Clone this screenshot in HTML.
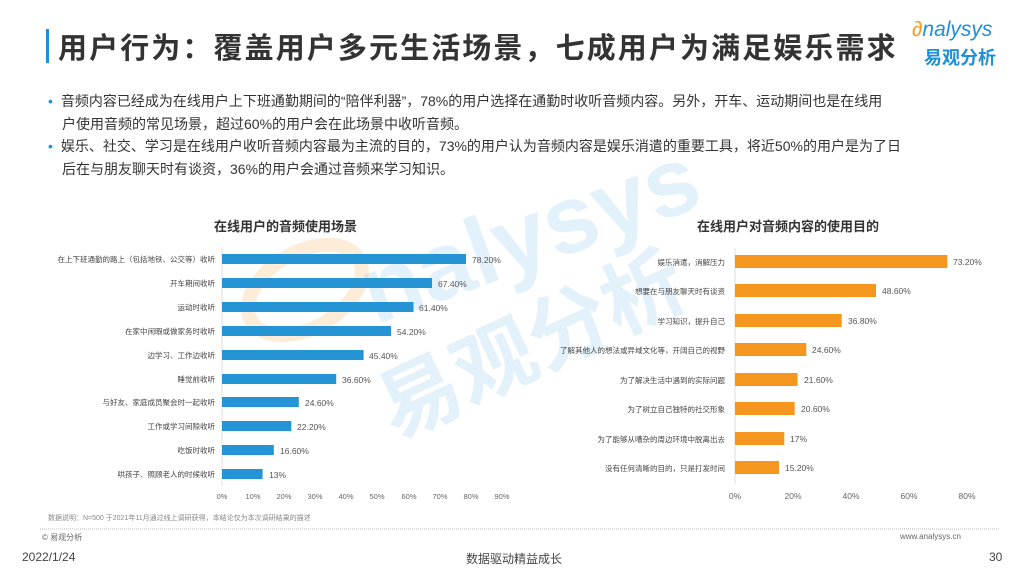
<!DOCTYPE html>
<html><head><meta charset="utf-8"><style>
body{margin:0;width:1024px;height:576px;background:#fff;position:relative;overflow:hidden;font-family:"Liberation Sans","Noto Sans CJK SC",sans-serif;color:#333}
.a{position:absolute;white-space:nowrap}
</style></head><body>
<svg class="a" style="left:0;top:0" width="1024" height="576" font-family="Liberation Sans, Noto Sans CJK SC, sans-serif">
<ellipse cx="305" cy="290" rx="62" ry="38" transform="rotate(-30 305 290)" fill="none" stroke="rgba(245,150,31,0.18)" stroke-width="14"/>
<text x="375" y="325" font-size="96" font-weight="bold" fill="rgba(31,143,214,0.13)" transform="rotate(-20 375 325)">nalysys</text>
<text x="395" y="440" font-size="82" font-weight="bold" fill="rgba(31,143,214,0.13)" transform="rotate(-25 395 440)">易观分析</text>
</svg>
<div class="a" style="left:46px;top:29px;width:3px;height:34px;background:#1f8fd6"></div>
<div class="a" style="left:58px;top:25px;font-size:29px;font-weight:bold;color:#333;letter-spacing:2.1px">用户行为：覆盖用户多元生活场景，七成用户为满足娱乐需求</div>
<div class="a" style="left:912px;top:18px;font-size:21px;color:#1f8fd6;font-style:italic"><span style="color:#f39c27">∂</span>nalysys</div>
<div class="a" style="left:924px;top:44px;font-size:18px;color:#1f8fd6;font-weight:bold">易观分析</div>
<div class="a" style="left:48px;top:90px;font-size:14px;line-height:22.5px;color:#333">
<div><span style="color:#1f8fd6;margin-right:8px">•</span>音频内容已经成为在线用户上下班通勤期间的“陪伴利器”，78%的用户选择在通勤时收听音频内容。另外，开车、运动期间也是在线用</div>
<div style="padding-left:14px">户使用音频的常见场景，超过60%的用户会在此场景中收听音频。</div>
<div><span style="color:#1f8fd6;margin-right:8px">•</span>娱乐、社交、学习是在线用户收听音频内容最为主流的目的，73%的用户认为音频内容是娱乐消遣的重要工具，将近50%的用户是为了日</div>
<div style="padding-left:14px">后在与朋友聊天时有谈资，36%的用户会通过音频来学习知识。</div>
</div>
<div class="a" style="left:214px;top:216px;font-size:13px;font-weight:bold;color:#333">在线用户的音频使用场景</div>
<div class="a" style="left:697px;top:216px;font-size:13px;font-weight:bold;color:#333">在线用户对音频内容的使用目的</div>
<svg class="a" style="left:0;top:0" width="1024" height="576" font-family="Liberation Sans, Noto Sans CJK SC, sans-serif">
<g font-size="7.5" fill="#444" text-anchor="end">
<line x1="222" y1="247" x2="222" y2="486" stroke="#ddd"/>
<g fill="#2494d4">
<rect x="222" y="254" width="244" height="10"/>
<rect x="222" y="278" width="210" height="10"/>
<rect x="222" y="302" width="191.5" height="10"/>
<rect x="222" y="326" width="169" height="10"/>
<rect x="222" y="350" width="141.6" height="10"/>
<rect x="222" y="374" width="114.2" height="10"/>
<rect x="222" y="397" width="76.8" height="10"/>
<rect x="222" y="421" width="69.3" height="10"/>
<rect x="222" y="445" width="51.8" height="10"/>
<rect x="222" y="469" width="40.6" height="10"/>
</g>
<text x="215" y="262">在上下班通勤的路上（包括地铁、公交等）收听</text>
<text x="215" y="286">开车期间收听</text>
<text x="215" y="310">运动时收听</text>
<text x="215" y="334">在家中闲暇或做家务时收听</text>
<text x="215" y="358">边学习、工作边收听</text>
<text x="215" y="382">睡觉前收听</text>
<text x="215" y="405">与好友、家庭成员聚会时一起收听</text>
<text x="215" y="429">工作或学习间隙收听</text>
<text x="215" y="453">吃饭时收听</text>
<text x="215" y="477">哄孩子、照顾老人的时候收听</text>
<g text-anchor="start" font-size="8.5" fill="#555">
<text x="472" y="263">78.20%</text><text x="438" y="287">67.40%</text><text x="419" y="311">61.40%</text><text x="397" y="335">54.20%</text><text x="369" y="359">45.40%</text><text x="342" y="383">36.60%</text><text x="305" y="406">24.60%</text><text x="297" y="430">22.20%</text><text x="280" y="454">16.60%</text><text x="269" y="478">13%</text>
</g>
<g text-anchor="middle" font-size="7.5" fill="#666">
<text x="222" y="499">0%</text><text x="253" y="499">10%</text><text x="284" y="499">20%</text><text x="315" y="499">30%</text><text x="346" y="499">40%</text><text x="377" y="499">50%</text><text x="409" y="499">60%</text><text x="440" y="499">70%</text><text x="471" y="499">80%</text><text x="502" y="499">90%</text>
</g>
</g>
<g font-size="7.5" fill="#444" text-anchor="end">
<line x1="735" y1="248" x2="735" y2="484" stroke="#ddd"/>
<g fill="#f5961f">
<rect x="735" y="255" width="212.3" height="13"/>
<rect x="735" y="284" width="141" height="13"/>
<rect x="735" y="314" width="106.7" height="13"/>
<rect x="735" y="343" width="71.3" height="13"/>
<rect x="735" y="373" width="62.6" height="13"/>
<rect x="735" y="402" width="59.7" height="13"/>
<rect x="735" y="432" width="49.3" height="13"/>
<rect x="735" y="461" width="44.1" height="13"/>
</g>
<text x="725" y="265">娱乐消遣，消解压力</text>
<text x="725" y="294">想要在与朋友聊天时有谈资</text>
<text x="725" y="324">学习知识，提升自己</text>
<text x="725" y="353">了解其他人的想法或异域文化等，开阔自己的视野</text>
<text x="725" y="383">为了解决生活中遇到的实际问题</text>
<text x="725" y="412">为了树立自己独特的社交形象</text>
<text x="725" y="442">为了能够从嘈杂的周边环境中脱离出去</text>
<text x="725" y="471">没有任何清晰的目的，只是打发时间</text>
<g text-anchor="start" font-size="8.5" fill="#555">
<text x="953" y="265">73.20%</text><text x="882" y="294">48.60%</text><text x="848" y="324">36.80%</text><text x="812" y="353">24.60%</text><text x="804" y="383">21.60%</text><text x="801" y="412">20.60%</text><text x="790" y="442">17%</text><text x="785" y="471">15.20%</text>
</g>
<g text-anchor="middle" font-size="8.5" fill="#666">
<text x="735" y="499">0%</text><text x="793" y="499">20%</text><text x="851" y="499">40%</text><text x="909" y="499">60%</text><text x="967" y="499">80%</text>
</g>
</g>
<line x1="40" y1="529" x2="1000" y2="529" stroke="#bbb" stroke-dasharray="1,1"/>
</svg>
<div class="a" style="left:48px;top:513px;font-size:7px;color:#888">数据说明：N=500 于2021年11月通过线上调研获得，本结论仅为本次调研结果的描述</div>
<div class="a" style="left:42px;top:532px;font-size:8px;color:#666">© 易观分析</div>
<div class="a" style="left:900px;top:532px;font-size:8px;color:#666">www.analysys.cn</div>
<div class="a" style="left:22px;top:550px;font-size:12px;color:#444">2022/1/24</div>
<div class="a" style="left:466px;top:550px;font-size:12px;color:#444">数据驱动精益成长</div>
<div class="a" style="left:989px;top:550px;font-size:12px;color:#444">30</div>
</body></html>
